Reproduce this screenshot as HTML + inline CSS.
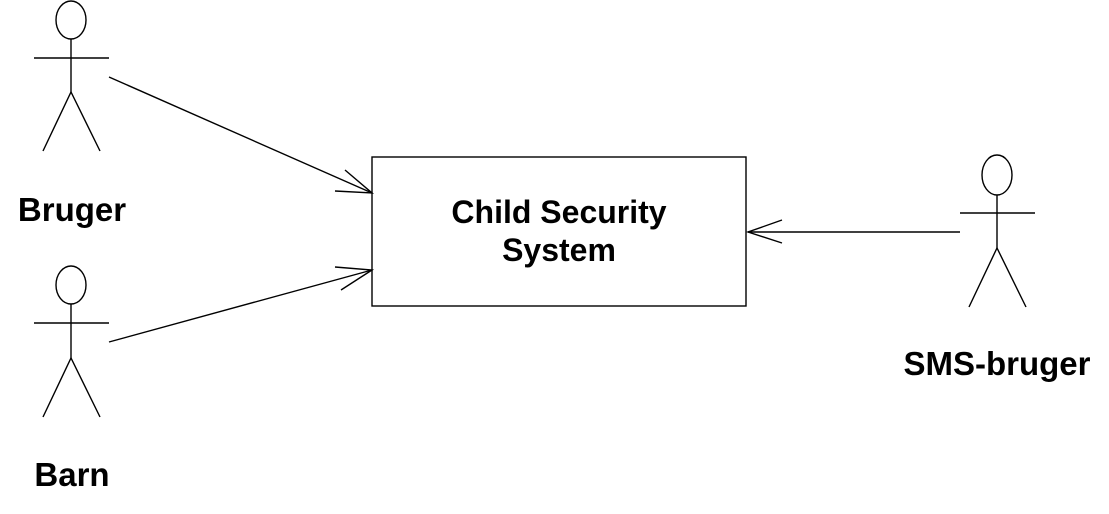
<!DOCTYPE html>
<html><head><style>
body{margin:0;background:#fff;width:1109px;height:509px;overflow:hidden}
svg text{font-family:"Liberation Sans",Arial,sans-serif;font-weight:bold;fill:#000}
</style></head><body>
<svg width="1109" height="509" viewBox="0 0 1109 509" xmlns="http://www.w3.org/2000/svg">
<g fill="none" stroke="#000" stroke-width="1.4">
<ellipse cx="71" cy="20" rx="15" ry="19"/>
<line x1="34" y1="58" x2="109" y2="58"/>
<line x1="71" y1="39" x2="71" y2="92"/>
<polyline points="43,151 71,92 100,151"/>
<ellipse cx="71" cy="285" rx="15" ry="19"/>
<line x1="34" y1="323" x2="109" y2="323"/>
<line x1="71" y1="304" x2="71" y2="358"/>
<polyline points="43,417 71,358 100,417"/>
<ellipse cx="997" cy="175" rx="15" ry="20"/>
<line x1="960" y1="213" x2="1035" y2="213"/>
<line x1="997" y1="195" x2="997" y2="248"/>
<polyline points="969,307 997,248 1026,307"/>
<rect x="372" y="157" width="374" height="149"/>
<line x1="109" y1="77" x2="372" y2="193"/>
<polyline points="345,170 372,193 335,191"/>
<line x1="109" y1="342" x2="372" y2="270"/>
<polyline points="335,267 372,270 341,290"/>
<line x1="960" y1="232" x2="748" y2="232"/>
<polyline points="782,220 748,232 782,243"/>
</g>
<text x="72" y="221" font-size="33" text-anchor="middle">Bruger</text>
<text x="72" y="486" font-size="33" text-anchor="middle">Barn</text>
<text x="997" y="375" font-size="33" text-anchor="middle">SMS-bruger</text>
<text x="559" y="223" font-size="32" text-anchor="middle">Child Security</text>
<text x="559" y="261" font-size="32" text-anchor="middle">System</text>
</svg>
</body></html>
